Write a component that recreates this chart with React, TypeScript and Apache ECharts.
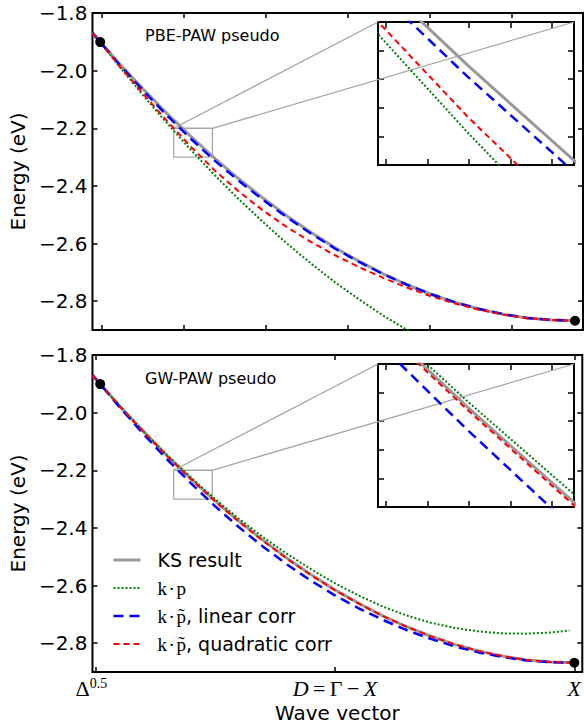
import React, { useEffect, useRef } from 'react';
import * as echarts from 'echarts';

// wave-vector coordinate: 0 = Δ^0.5, 0.5 = D = Γ−X, 1 = X
const tGrid = [-0.006, 0.01, 0.05, 0.1, 0.15, 0.2, 0.25, 0.3, 0.35, 0.4, 0.45, 0.5, 0.55, 0.6, 0.65, 0.7, 0.75, 0.8, 0.85, 0.9, 0.95, 1.0];
const tGridGwKp = [-0.006, 0.01, 0.05, 0.1, 0.15, 0.2, 0.25, 0.3, 0.35, 0.4, 0.45, 0.5, 0.55, 0.6, 0.65, 0.7, 0.75, 0.8, 0.85, 0.9, 0.95, 0.99];

// KS result (same in both panels)
const ksResult = [-1.870, -1.901, -1.976, -2.065, -2.150, -2.230, -2.306, -2.377, -2.443, -2.505, -2.562, -2.615, -2.662, -2.705, -2.743, -2.776, -2.804, -2.827, -2.845, -2.858, -2.865, -2.868];

// PBE-PAW pseudo panel
const pbeKp = [-1.866, -1.901, -1.986, -2.087, -2.184, -2.277, -2.365, -2.448, -2.526, -2.601, -2.670, -2.735, -2.794, -2.850, -2.900, -2.945];
const pbeLinear = [-1.870, -1.901, -1.979, -2.070, -2.157, -2.238, -2.314, -2.384, -2.449, -2.510, -2.566, -2.618, -2.664, -2.706, -2.743, -2.776, -2.804, -2.827, -2.845, -2.858, -2.865, -2.868];
const pbeQuadratic = [-1.870, -1.901, -1.984, -2.081, -2.176, -2.266, -2.348, -2.421, -2.486, -2.544, -2.595, -2.641, -2.682, -2.719, -2.753, -2.783, -2.808, -2.830, -2.847, -2.859, -2.865, -2.868];

// GW-PAW pseudo panel
const gwKp = [-1.870, -1.901, -1.976, -2.064, -2.148, -2.226, -2.300, -2.369, -2.432, -2.490, -2.543, -2.592, -2.635, -2.673, -2.704, -2.729, -2.747, -2.759, -2.766, -2.767, -2.763, -2.756];
const gwLinear = [-1.870, -1.901, -1.980, -2.074, -2.163, -2.246, -2.325, -2.398, -2.465, -2.527, -2.583, -2.634, -2.679, -2.719, -2.755, -2.785, -2.811, -2.832, -2.848, -2.860, -2.866, -2.868];
const gwQuadratic = [-1.870, -1.901, -1.977, -2.066, -2.152, -2.232, -2.308, -2.379, -2.445, -2.507, -2.564, -2.616, -2.663, -2.706, -2.743, -2.776, -2.804, -2.827, -2.845, -2.858, -2.865, -2.868];

// axes
const xRange = [-0.0062, 1.0166];
const yRange = [-2.9, -1.8];
const yTickValues = [-2.8, -2.6, -2.4, -2.2, -2.0, -1.8];
const topXTicks = [0.0124, 0.1836, 0.3548, 0.526, 0.6972, 0.8684];
const bottomXTicks = [0, 0.5, 1];
const bottomXTickLabels = ['{d|Δ}{s|0.5}', '{i|D}{n|\u2009=\u2009Γ\u2009−\u2009}{i|X}', '{i|X}'];
const insetX = [0.1632, 0.244];
const insetY = [-2.3, -2.2];
const insetXTicks = [0.1665, 0.1836, 0.2007, 0.2178, 0.235];
const insetYTicks = [-2.28, -2.26, -2.24, -2.22];

const panelTitles = ['PBE-PAW pseudo', 'GW-PAW pseudo'];
const seriesNames = ['KS result', 'k\u200A·\u200Ap', 'k\u200A·\u200Ap\u0303, linear corr', 'k\u200A·\u200Ap\u0303, quadratic corr'];

const pair = (ts: number[], vs: number[]) => vs.map((v, i) => [ts[i], v]);

export default function App() {
  const ref = useRef<HTMLDivElement>(null);
  useEffect(() => {
    document.body.style.margin = '0';
    const chart = echarts.init(ref.current!, null, { renderer: 'svg' });

    const mainGrids = [
      { left: 89, top: 13, width: 494, height: 317 },
      { left: 89, top: 355, width: 494, height: 317 },
    ];
    const insetGrids = [
      { left: 378, top: 22, width: 196, height: 143 },
      { left: 378, top: 364, width: 196, height: 143 },
    ];
    const grids = [...mainGrids, ...insetGrids].map((g) => ({
      ...g,
      show: true,
      borderColor: '#000',
      borderWidth: 2,
      backgroundColor: 'transparent',
    }));

    const tick = (vals: number[], len: number) => ({
      show: true,
      inside: true,
      length: len,
      customValues: vals,
      lineStyle: { color: '#000', width: 1.5 },
    });

    const baseAxis = (gridIndex: number, position: string, range: number[], ticks: number[], len: number, extra: any = {}) => ({
      type: 'value',
      gridIndex,
      position,
      min: range[0],
      max: range[1],
      axisLine: { show: false, onZero: false },
      splitLine: { show: false },
      axisTick: tick(ticks, len),
      axisLabel: { show: false },
      ...extra,
    });

    const yLabel = {
      show: true,
      customValues: yTickValues,
      formatter: (v: number) => v.toFixed(1).replace('-', '\u2212'),
      fontSize: 20,
      fontFamily: 'DejaVu Sans',
      color: '#000',
      margin: 5,
    };
    const yName = {
      name: 'Energy (eV)',
      nameLocation: 'middle',
      nameGap: 60,
      nameTextStyle: { fontSize: 20, fontFamily: 'DejaVu Sans', color: '#000' },
    };

    const xAxis = [
      baseAxis(0, 'bottom', xRange, topXTicks, 5),
      baseAxis(0, 'top', xRange, topXTicks, 5),
      baseAxis(1, 'bottom', xRange, bottomXTicks, 5, {
        axisLabel: {
          show: true,
          customValues: bottomXTicks,
          margin: 4,
          color: '#000',
          lineHeight: 24,
          formatter: (v: number) => {
            const i = bottomXTicks.findIndex((b) => Math.abs(b - v) < 1e-9);
            return i >= 0 ? bottomXTickLabels[i] : '';
          },
          rich: {
            d: { fontFamily: 'Liberation Serif', fontSize: 22, lineHeight: 24, color: '#000' },
            s: { fontFamily: 'Liberation Serif', fontSize: 14, lineHeight: 10, color: '#000', verticalAlign: 'top', padding: [0, 8, 0, 0] },
            i: { fontFamily: 'Liberation Serif', fontStyle: 'italic', fontSize: 22, lineHeight: 24, color: '#000' },
            n: { fontFamily: 'Liberation Serif', fontSize: 22, lineHeight: 24, color: '#000' },
          },
        },
        name: 'Wave vector',
        nameLocation: 'middle',
        nameGap: 31,
        nameTextStyle: { fontSize: 20, fontFamily: 'DejaVu Sans', color: '#000', lineHeight: 20 },
      }),
      baseAxis(1, 'top', xRange, bottomXTicks, 5),
      baseAxis(2, 'bottom', insetX, insetXTicks, 6),
      baseAxis(2, 'top', insetX, insetXTicks, 6),
      baseAxis(3, 'bottom', insetX, insetXTicks, 6),
      baseAxis(3, 'top', insetX, insetXTicks, 6),
    ];
    const yAxis = [
      baseAxis(0, 'left', yRange, yTickValues, 5, { axisLabel: yLabel, ...yName }),
      baseAxis(0, 'right', yRange, yTickValues, 5),
      baseAxis(1, 'left', yRange, yTickValues, 5, { axisLabel: yLabel, ...yName }),
      baseAxis(1, 'right', yRange, yTickValues, 5),
      baseAxis(2, 'left', insetY, insetYTicks, 6),
      baseAxis(2, 'right', insetY, insetYTicks, 6),
      baseAxis(3, 'left', insetY, insetYTicks, 6),
      baseAxis(3, 'right', insetY, insetYTicks, 6),
    ];

    const styles = [
      { color: '#999999', width: 3, type: 'solid', z: 2 },
      { color: '#008000', width: 2, type: [2, 2], z: 3 },
      { color: '#0000ff', width: 2.5, type: [10, 6], z: 4 },
      { color: '#ff0000', width: 2, type: [6, 4], z: 5 },
    ];
    const panelData = [
      [pair(tGrid, ksResult), pair(tGrid, pbeKp), pair(tGrid, pbeLinear), pair(tGrid, pbeQuadratic)],
      [pair(tGrid, ksResult), pair(tGridGwKp, gwKp), pair(tGrid, gwLinear), pair(tGrid, gwQuadratic)],
    ];

    const series: any[] = [];
    panelData.forEach((curves, p) => {
      [p, 2 + p].forEach((g) => {
        curves.forEach((d, k) => {
          const s = styles[k];
          series.push({
            type: 'line',
            name: seriesNames[k],
            xAxisIndex: 2 * g,
            yAxisIndex: 2 * g,
            data: d,
            showSymbol: false,
            symbol: 'none',
            clip: true,
            silent: true,
            z: s.z,
            itemStyle: { color: s.color },
            lineStyle: { color: s.color, width: s.width, type: s.type },
          });
        });
      });
      series.push({
        type: 'scatter',
        name: 'points',
        xAxisIndex: 2 * p,
        yAxisIndex: 2 * p,
        data: [
          [tGrid[1], ksResult[1]],
          [tGrid[tGrid.length - 1], ksResult[ksResult.length - 1]],
        ],
        symbolSize: 10,
        itemStyle: { color: '#000', opacity: 1 },
        z: 8,
        silent: true,
      });
      series.push({
        type: 'line',
        name: 'zoom',
        xAxisIndex: 2 * p,
        yAxisIndex: 2 * p,
        data: [
          [insetX[0], insetY[1]],
          [insetX[1], insetY[1]],
          [insetX[1], insetY[0]],
          [insetX[0], insetY[0]],
          [insetX[0], insetY[1]],
        ],
        symbol: 'none',
        silent: true,
        z: 1,
        lineStyle: { color: '#a6a6a6', width: 1.3 },
      });
    });

    const legendFormatter = (name: string) => {
      if (name.startsWith('k')) {
        const parts = name.split(', ');
        return `{g|}{m|${parts[0]}}` + (parts[1] ? `{s|, ${parts[1]}}` : '');
      }
      return `{g|}{s|${name}}`;
    };

    const option: any = {
      animation: false,
      textStyle: { fontFamily: 'DejaVu Sans' },
      grid: grids,
      xAxis,
      yAxis,
      legend: {
        data: seriesNames,
        orient: 'vertical',
        left: 112,
        top: 549,
        padding: 0,
        itemWidth: 27,
        itemHeight: 14,
        itemGap: 6,
        selectedMode: false,
        itemStyle: { opacity: 0 },
        lineStyle: { width: 'inherit' },
        formatter: legendFormatter,
        textStyle: {
          color: '#000',
          lineHeight: 22,
          rich: {
            g: { width: 12 },
            m: { fontFamily: 'Liberation Serif', fontSize: 19, color: '#000' },
            s: { fontFamily: 'DejaVu Sans', fontSize: 19, color: '#000' },
          },
        },
      },
      series,
      graphic: panelTitles.map((t, i) => ({
        type: 'text',
        x: 145,
        y: i === 0 ? 35.5 : 378,
        style: { text: t, font: '16px "DejaVu Sans"', fill: '#000', verticalAlign: 'middle', align: 'left' },
      })),
    };
    chart.setOption(option);

    // connector lines between zoom rectangle and inset corners
    const lines: any[] = [];
    [0, 1].forEach((p) => {
      const a1 = chart.convertToPixel({ gridIndex: p }, [insetX[0], insetY[1]]) as number[];
      const a2 = chart.convertToPixel({ gridIndex: p }, [insetX[1], insetY[1]]) as number[];
      const b1 = chart.convertToPixel({ gridIndex: 2 + p }, [insetX[0], insetY[1]]) as number[];
      const b2 = chart.convertToPixel({ gridIndex: 2 + p }, [insetX[1], insetY[1]]) as number[];
      [[a1, b1], [a2, b2]].forEach(([a, b]) => {
        lines.push({
          type: 'line',
          shape: { x1: a[0], y1: a[1], x2: b[0], y2: b[1] },
          style: { stroke: '#a6a6a6', lineWidth: 1.3 },
          z: 1,
          silent: true,
        });
      });
    });
    chart.setOption({ graphic: [...option.graphic, ...lines] });

    return () => chart.dispose();
  }, []);
  return <div ref={ref} style={{ width: 584, height: 727, position: 'absolute', left: 0, top: 0 }} />;
}
